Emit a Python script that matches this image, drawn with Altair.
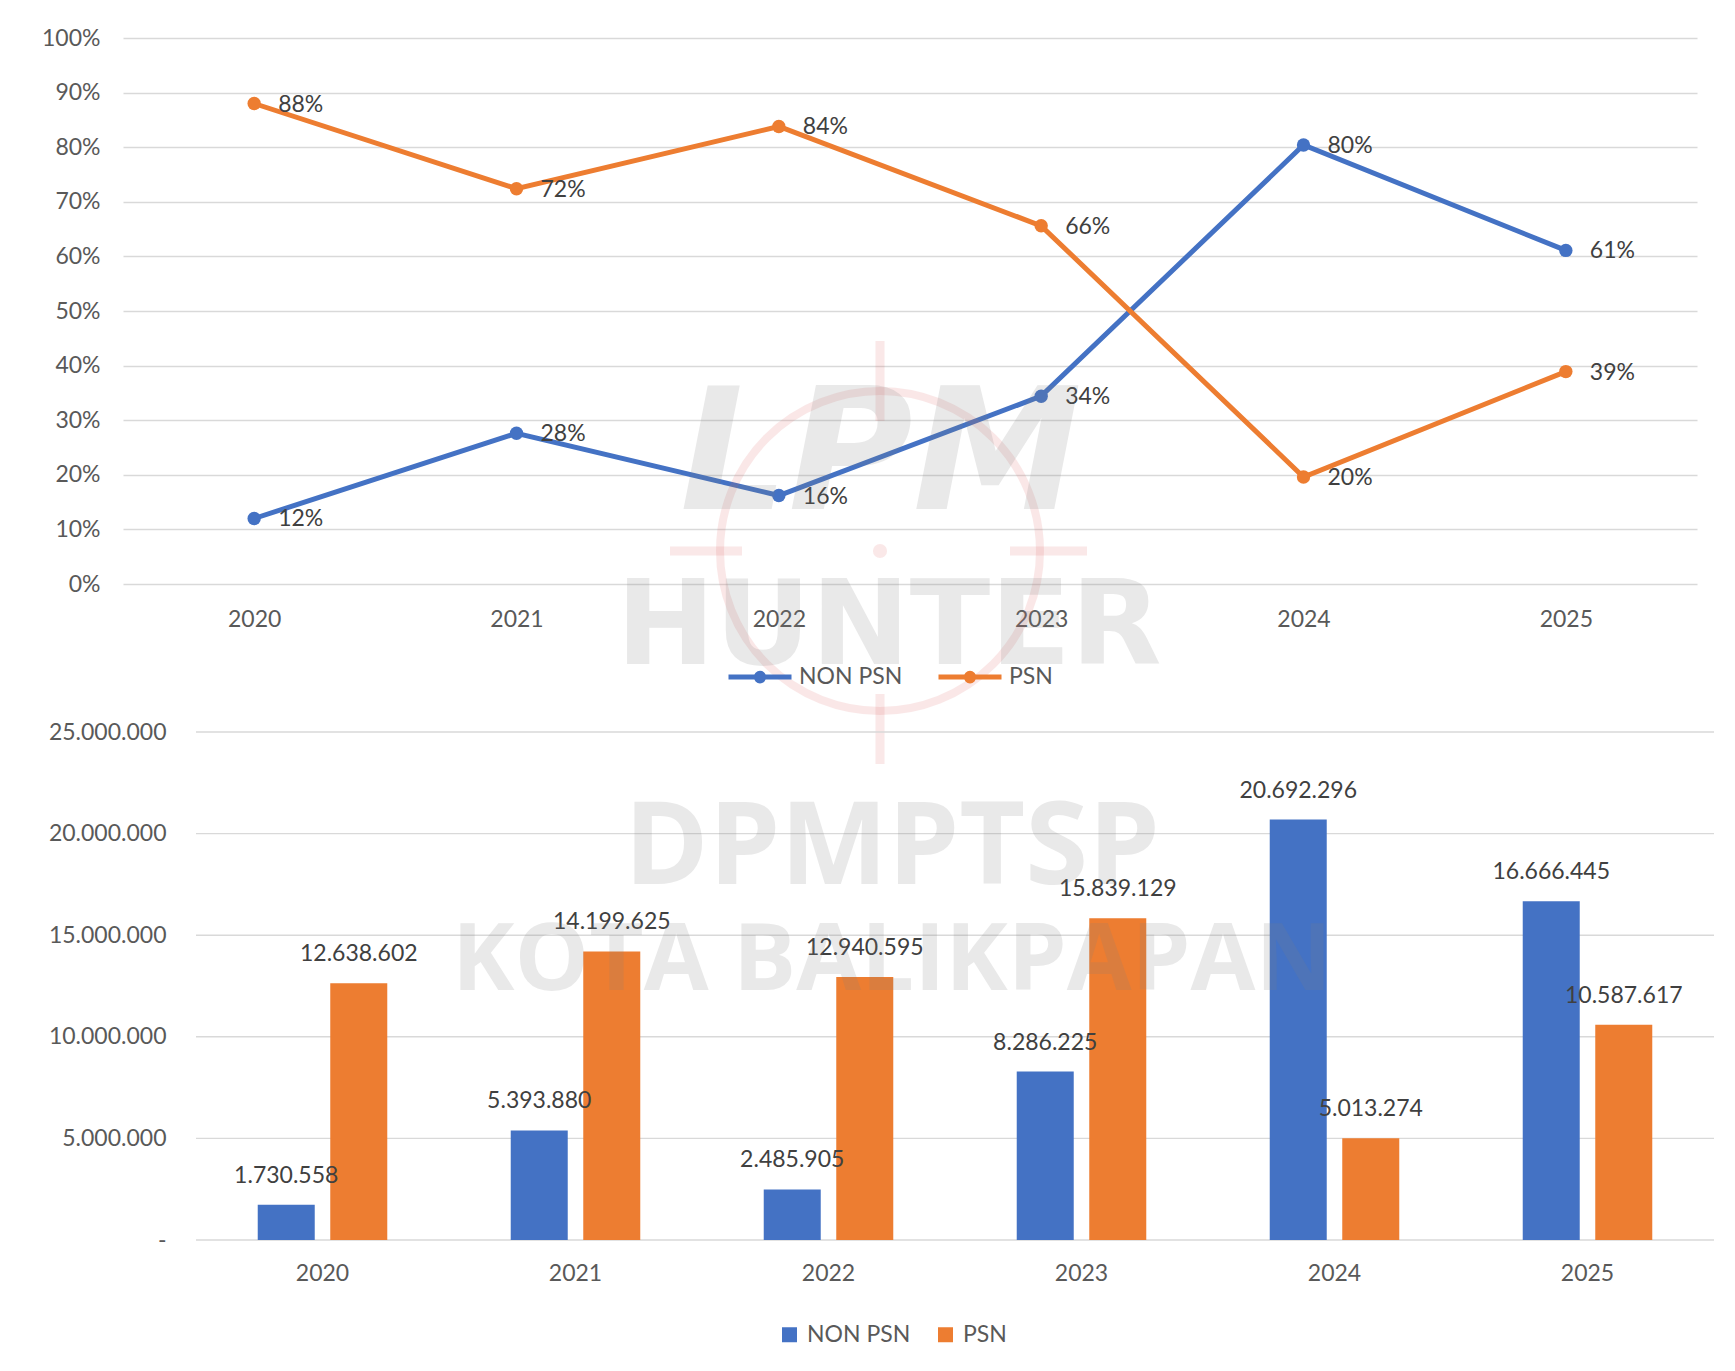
import altair as alt
import pandas as pd

# ---------------- data ----------------
YEARS = ["2020", "2021", "2022", "2023", "2024", "2025"]
SERIES = ["NON PSN", "PSN"]
COLORS = ["#4472C4", "#ED7D31"]

NON_PSN_SHARE = [0.12, 0.276, 0.162, 0.344, 0.804, 0.611]
PSN_SHARE = [0.88, 0.724, 0.838, 0.656, 0.196, 0.389]

NON_PSN_VALUE = [1730558, 5393880, 2485905, 8286225, 20692296, 16666445]
PSN_VALUE = [12638602, 14199625, 12940595, 15839129, 5013274, 10587617]

PCT_TICKS = [0, 0.1, 0.2, 0.3, 0.4, 0.5, 0.6, 0.7, 0.8, 0.9, 1.0]
VALUE_TICKS = [0, 5000000, 10000000, 15000000, 20000000, 25000000]

WATERMARK_LOGO = ["LPM"]
WATERMARK_TOP = ["HUNTER"]
WATERMARK_BOTTOM = ["DPMPTSP", "KOTA BALIKPAPAN"]

FONT = "Lato"
FS = 23
AXIS_COLOR = "#595959"
LABEL_COLOR = "#404040"
GRID = "#D9D9D9"
WM_COLOR = "#7f7f7f"
WM_OPACITY = 0.17
RED_WM = "#E06666"


def dotted(v):
    return f"{v:,}".replace(",", ".")


share_df = pd.DataFrame(
    [{"year": y, "series": SERIES[0], "share": v} for y, v in zip(YEARS, NON_PSN_SHARE)]
    + [{"year": y, "series": SERIES[1], "share": v} for y, v in zip(YEARS, PSN_SHARE)]
)
value_df = pd.DataFrame(
    [{"year": y, "series": SERIES[0], "value": v, "label": dotted(v)} for y, v in zip(YEARS, NON_PSN_VALUE)]
    + [{"year": y, "series": SERIES[1], "value": v, "label": dotted(v)} for y, v in zip(YEARS, PSN_VALUE)]
)
tick_df = pd.DataFrame({"value": VALUE_TICKS})
one_row = pd.DataFrame({"k": [0]})

# ---------------- top: share line chart ----------------
TOP_W, TOP_H = 1574, 546

x_top = alt.X(
    "year:N", sort=YEARS,
    scale=alt.Scale(type="point", padding=0.5),
    axis=alt.Axis(title=None, labelAngle=0, domain=False, ticks=False, grid=False,
                  labelPadding=24, labelFontSize=FS, labelFont=FONT, labelColor=AXIS_COLOR),
)
y_top = alt.Y(
    "share:Q",
    scale=alt.Scale(domain=[0, 1], nice=False, zero=True),
    axis=alt.Axis(title=None, values=PCT_TICKS, format=".0%", domain=False, ticks=False,
                  grid=True, gridColor=GRID, gridWidth=1.3, labelPadding=23,
                  labelFontSize=FS, labelFont=FONT, labelColor=AXIS_COLOR),
)
color_top = alt.Color(
    "series:N",
    scale=alt.Scale(domain=SERIES, range=COLORS),
    legend=alt.Legend(
        title=None, orient="none", direction="horizontal", legendX=603, legendY=605,
        symbolType="M-1,0L1,0M-0.12,0A0.12,0.12,0,1,1,0.12,0A0.12,0.12,0,1,1,-0.12,0",
        symbolSize=3969, symbolStrokeWidth=5, labelOffset=5, columnPadding=25,
        labelFontSize=FS, labelFont=FONT, labelColor=AXIS_COLOR,
    ),
)

base_top = alt.Chart(share_df)
line = base_top.mark_line(strokeWidth=5).encode(x=x_top, y=y_top, color=color_top)
pts = base_top.mark_point(filled=True, size=180, opacity=1).encode(x=x_top, y=y_top, color=color_top)
lbl_top = base_top.mark_text(
    align="left", baseline="middle", dx=24, dy=1, fontSize=FS, font=FONT, color=LABEL_COLOR
).encode(x=x_top, y=y_top, text=alt.Text("share:Q", format=".0%"))

# faint logo watermark (decoration)
wm_ring = alt.Chart(one_row).mark_point(
    shape="circle", filled=False, size=102400, strokeWidth=8, color=RED_WM, opacity=0.15
).encode(x=alt.value(757), y=alt.value(513))
wm_dot = alt.Chart(one_row).mark_point(
    shape="circle", filled=True, size=200, color=RED_WM, opacity=0.15
).encode(x=alt.value(757), y=alt.value(513))
wm_cross = alt.Chart(pd.DataFrame({"x1": [757, 757, 547, 887], "x2": [757, 757, 619, 964],
                                   "y1": [303, 656, 513, 513], "y2": [383, 726, 513, 513]})).mark_rule(
    strokeWidth=9, color=RED_WM, opacity=0.15
).encode(x=alt.X("x1:Q", scale=None), x2="x2:Q", y=alt.Y("y1:Q", scale=None), y2="y2:Q")
wm_logo = alt.Chart(pd.DataFrame({"t": WATERMARK_LOGO})).mark_text(
    font="DejaVu Sans", fontWeight="bold", fontStyle="italic", fontSize=170,
    color=WM_COLOR, opacity=WM_OPACITY,
).encode(text="t:N", x=alt.value(758), y=alt.value(420))
wm_top = alt.Chart(pd.DataFrame({"t": WATERMARK_TOP})).mark_text(
    font="DejaVu Sans", fontWeight="bold", fontSize=118, color=WM_COLOR, opacity=WM_OPACITY,
).encode(text="t:N", x=alt.value(766), y=alt.value(591))

top = alt.layer(line, pts, lbl_top, wm_ring, wm_dot, wm_cross, wm_logo, wm_top).properties(
    width=TOP_W, height=TOP_H)

# ---------------- bottom: value bar chart ----------------
BOT_W, BOT_H = 1591, 508
BOT_LEFT = 73  # left inset of the bar plot inside the panel

x_bot = alt.X(
    "year:N", sort=YEARS,
    scale=alt.Scale(range=[BOT_LEFT, BOT_W], paddingInner=0.488, paddingOuter=0.244),
    axis=alt.Axis(title=None, labelAngle=0, domain=False,
                  ticks=False, grid=False, labelPadding=22,
                  labelFontSize=FS, labelFont=FONT, labelColor=AXIS_COLOR),
)
xoff_bot = alt.XOffset("series:N", sort=SERIES, scale=alt.Scale(paddingInner=0.214))
y_bot = alt.Y(
    "value:Q",
    scale=alt.Scale(domain=[0, 25000000], nice=False),
    axis=alt.Axis(title=None, values=VALUE_TICKS, format=",d", offset=-BOT_LEFT,
                  labelExpr="datum.value == 0 ? '-\u00a0\u00a0\u00a0\u00a0\u00a0\u00a0\u00a0' : replace(replace(datum.label, ',', '.'), ',', '.')",
                  domain=False, ticks=False, grid=False,
                  labelPadding=30, labelFontSize=FS, labelFont=FONT, labelColor=AXIS_COLOR),
)
color_bot = alt.Color(
    "series:N",
    scale=alt.Scale(domain=SERIES, range=COLORS),
    legend=alt.Legend(
        title=None, orient="none", direction="horizontal", legendX=655, legendY=591,
        symbolType="square", symbolSize=225, labelOffset=6, columnPadding=23,
        labelFontSize=FS, labelFont=FONT, labelColor=AXIS_COLOR,
    ),
)

grid_bot = alt.Chart(tick_df).mark_rule(color=GRID, strokeWidth=1.4).encode(
    y=y_bot, x=alt.value(BOT_LEFT), x2=alt.value(BOT_W),
)

base_bot = alt.Chart(value_df)
bars = base_bot.mark_bar().encode(x=x_bot, xOffset=xoff_bot, y=y_bot, color=color_bot)
lbl_bot = base_bot.mark_text(
    baseline="middle", dy=-29, fontSize=FS, font=FONT, color=LABEL_COLOR
).encode(x=x_bot, xOffset=xoff_bot, y=y_bot, text="label:N")

wm_bot = alt.Chart(pd.DataFrame({"t": WATERMARK_BOTTOM, "py": [118, 230], "fs": [114, 94]})).mark_text(
    font="Open Sans", fontWeight="bold", color=WM_COLOR, opacity=WM_OPACITY,
).encode(text="t:N", x=alt.value(769), y=alt.Y("py:Q", scale=None),
         size=alt.Size("fs:Q", scale=None, legend=None))

bottom = alt.layer(grid_bot, bars, lbl_bot, wm_bot).properties(width=BOT_W, height=BOT_H)

chart = (
    alt.vconcat(top, bottom, spacing=148, bounds="flush")
    .resolve_scale(color="independent", x="independent", y="independent")
    .resolve_legend(color="independent")
    .properties(padding={"left": 33, "top": 19, "right": 5, "bottom": 5}, background="white")
    .configure_view(stroke=None)
)

chart.save("out.html", embed_options={"renderer": "svg", "actions": False})
